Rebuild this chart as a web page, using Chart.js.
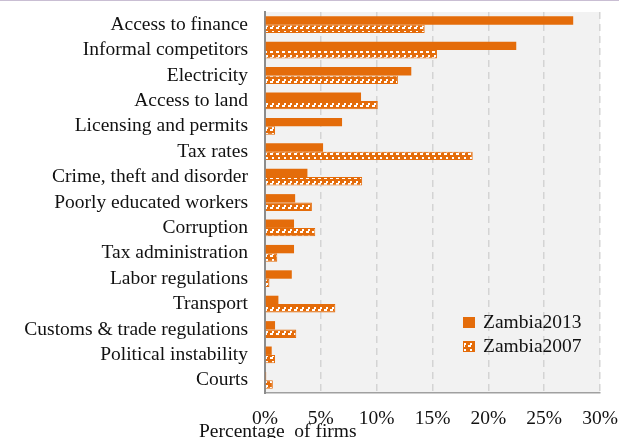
<!DOCTYPE html>
<html>
<head>
<meta charset="utf-8">
<script src="https://cdn.jsdelivr.net/npm/chart.js@4"></script>
<style>
  html, body { margin: 0; padding: 0; background: #fff; }
  #wrap { position: relative; width: 619px; height: 438px; overflow: hidden; }
  #topline { position: absolute; left: 0; top: 0; width: 619px; height: 1px; background: #c9bed3; }
</style>
</head>
<body>
<div id="wrap">
  <canvas id="obstacles" width="619" height="438"></canvas>
  <div id="topline"></div>
</div>
<script>
// Biggest obstacle to doing business, share of firms (%)
const categories = [
    'Access to finance', 'Informal competitors', 'Electricity', 'Access to land',
    'Licensing and permits', 'Tax rates', 'Crime, theft and disorder',
    'Poorly educated workers', 'Corruption', 'Tax administration',
    'Labor regulations', 'Transport', 'Customs & trade regulations',
    'Political instability', 'Courts'
];
const zambia2013 = [27.6, 22.5, 13.1, 8.6, 6.9, 5.2, 3.8, 2.7, 2.6, 2.6, 2.4, 1.2, 0.9, 0.6, 0.1];
const zambia2007 = [14.3, 15.4, 11.9, 10.1, 0.9, 18.6, 8.7, 4.2, 4.5, 1.1, 0.4, 6.3, 2.8, 0.9, 0.7];
const seriesNames = ['Zambia2013', 'Zambia2007'];
const xMin = 0, xMax = 30, xStep = 5;
const axisTitle = 'Percentage  of firms';

const ORANGE = '#e46c0a';
const FONT = '"Liberation Serif", "Times New Roman", serif';
const FONT_SIZE = 19.5;

// hatched fill: little white stair-steps on orange
function makeHatch() {
    const c = document.createElement('canvas');
    c.width = 6;
    c.height = 6;
    const g = c.getContext('2d');
    g.fillStyle = ORANGE;
    g.fillRect(0, 0, 6, 6);
    g.fillStyle = '#ffffff';
    g.fillRect(0, 3, 3, 2);
    g.fillRect(2, 1, 2, 2);
    return g.createPattern(c, 'repeat');
}
const hatch = makeHatch();

const plotBackground = {
    id: 'plotBackground',
    beforeDraw(chart) {
        const { ctx, chartArea: a } = chart;
        ctx.save();
        ctx.fillStyle = '#f2f2f2';
        ctx.fillRect(a.left, a.top, a.right - a.left, a.bottom - a.top);
        ctx.restore();
    }
};

// legend sits inside the plot, lower right
const innerLegend = {
    id: 'innerLegend',
    afterDatasetsDraw(chart) {
        const { ctx, chartArea: a } = chart;
        const x = a.left + 198;
        const y0 = a.top + 305;
        const fills = [ORANGE, hatch];
        ctx.save();
        ctx.font = FONT_SIZE + 'px ' + FONT;
        ctx.textBaseline = 'middle';
        seriesNames.forEach((name, i) => {
            const y = y0 + i * 24;
            ctx.fillStyle = fills[i];
            ctx.fillRect(x, y, 12, 11);
            if (i === 1) {
                ctx.strokeStyle = ORANGE;
                ctx.lineWidth = 1;
                ctx.strokeRect(x + 0.5, y + 0.5, 11, 10);
            }
            ctx.fillStyle = '#111';
            ctx.fillText(name, x + 20, y + 6);
        });
        ctx.restore();
    }
};

const bottomTitle = {
    id: 'bottomTitle',
    afterDraw(chart) {
        const { ctx, chartArea: a } = chart;
        ctx.save();
        ctx.font = FONT_SIZE + 'px ' + FONT;
        ctx.fillStyle = '#111';
        ctx.textBaseline = 'alphabetic';
        ctx.fillText(axisTitle, a.left - 66, a.bottom + 44);
        ctx.restore();
    }
};

new Chart(document.getElementById('obstacles'), {
    type: 'bar',
    data: {
        labels: categories,
        datasets: [
            {
                label: seriesNames[0],
                data: zambia2013,
                backgroundColor: ORANGE,
                borderWidth: 0,
                barPercentage: 1,
                categoryPercentage: 0.66
            },
            {
                label: seriesNames[1],
                data: zambia2007,
                backgroundColor: hatch,
                borderColor: ORANGE,
                borderWidth: 1,
                barPercentage: 1,
                categoryPercentage: 0.66
            }
        ]
    },
    options: {
        indexAxis: 'y',
        responsive: false,
        animation: false,
        layout: { padding: { top: 12, right: 19, left: 0, bottom: 0 } },
        plugins: {
            legend: { display: false },
            tooltip: { enabled: false }
        },
        scales: {
            x: {
                min: xMin,
                max: xMax,
                ticks: {
                    stepSize: xStep,
                    padding: 14,
                    color: '#111',
                    font: { family: FONT, size: FONT_SIZE },
                    callback: (v) => v + '%'
                },
                grid: { color: '#d4d4d4', lineWidth: 1.5, drawTicks: false },
                border: { color: '#a0a0a0', width: 1.5, dash: [7, 5] },
                afterFit(scale) {
                    scale.height = 45;
                    scale.paddingLeft = 0;
                    scale.paddingRight = 0;
                }
            },
            y: {
                ticks: {
                    padding: 17,
                    color: '#111',
                    font: { family: FONT, size: FONT_SIZE },
                    autoSkip: false
                },
                grid: { display: false, drawTicks: false },
                border: { color: '#8c8c8c', width: 2 },
                afterFit(scale) {
                    scale.width = 265;
                    scale.paddingTop = 0;
                    scale.paddingBottom = 0;
                }
            }
        }
    },
    plugins: [plotBackground, innerLegend, bottomTitle]
});
</script>
</body>
</html>
